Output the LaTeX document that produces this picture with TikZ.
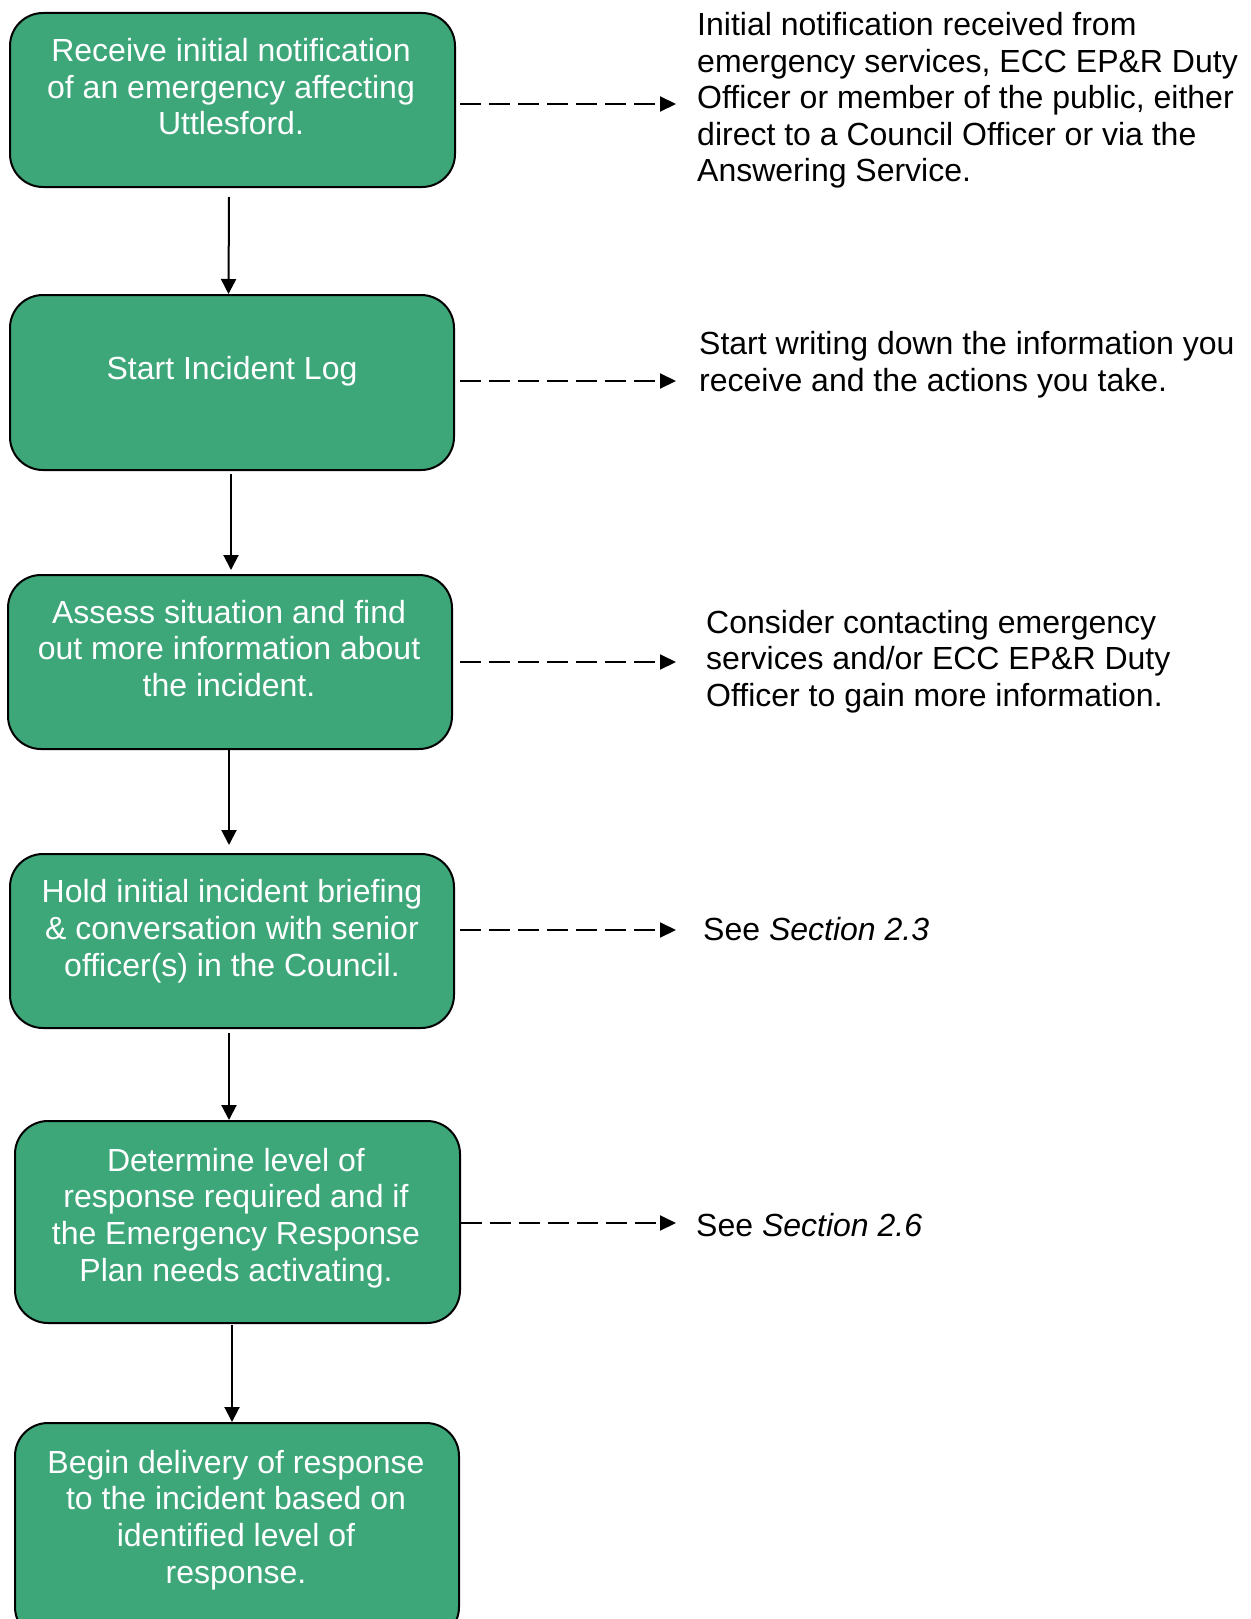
\documentclass[tikz,border=0pt]{standalone}
\usepackage{fontspec}
\setmainfont{Liberation Sans}
\usetikzlibrary{arrows.meta}
\definecolor{boxgreen}{HTML}{3DA77A}
\begin{document}
\begin{tikzpicture}[x=1pt,y=-1pt,
  box/.style={draw=black, line width=2pt, fill=boxgreen, rounded corners=33pt, rectangle, inner sep=0pt},
  boxtext/.style={text=white, align=center, font=\fontsize{32}{36.8}\selectfont, inner sep=0pt},
  note/.style={text=black, align=left, font=\fontsize{32}{36.4}\selectfont, inner sep=0pt, anchor=west},
  flow/.style={line width=2pt, -{Triangle[length=15pt,width=15pt]}},
  dasharrow/.style={line width=2pt, dash pattern=on 21pt off 8pt, -{Triangle[length=16pt,width=15pt]}}
]
\clip (0,0) rectangle (1250,1619);
% boxes
\node[box, minimum width=445pt, minimum height=174pt] (b1) at (232.5,100) {};
\node[box, minimum width=444pt, minimum height=175pt] (b2) at (232,382.5) {};
\node[box, minimum width=444pt, minimum height=174pt] (b3) at (230,662) {};
\node[box, minimum width=444pt, minimum height=174pt] (b4) at (232,941) {};
\node[box, minimum width=445pt, minimum height=202pt] (b5) at (237.5,1222) {};
\node[box, minimum width=444pt, minimum height=217pt] (b6) at (237,1531.5) {};
% box texts
\node[boxtext] (t1) at (231,86.7) {Receive initial notification\\of an emergency affecting\\Uttlesford.};
\node[boxtext] (t2) at (232,371.5) {Start Incident Log};
\node[boxtext] (t3) at (229,648.5) {Assess situation and find\\out more information about\\the incident.};
\node[boxtext] (t4) at (232,931) {Hold initial incident briefing\\\& conversation with senior\\officer(s) in the Council.};
\node[boxtext] (t5) at (236,1218) {Determine level of\\response required and if\\the Emergency Response\\Plan needs activating.};
\node[boxtext] (t6) at (236,1520) {Begin delivery of response\\to the incident based on\\identified level of\\response.};
% notes
\node[note] (n1) at (697,100.5) {Initial notification received from\\emergency services, ECC EP\&R Duty\\Officer or member of the public, either\\direct to a Council Officer or via the\\Answering Service.};
\node[note] (n2) at (699,364.8) {Start writing down the information you\\receive and the actions you take.};
\node[note] (n3) at (706,661.5) {Consider contacting emergency\\services and/or ECC EP\&R Duty\\Officer to gain more information.};
\node[note] (n4) at (703,929) {See \textit{Section 2.3}};
\node[note] (n5) at (696,1225.5) {See \textit{Section 2.6}};
% dashed arrow ends
\coordinate (e1) at (676,104);
\coordinate (e2) at (676,381);
\coordinate (e3) at (676,662);
\coordinate (e4) at (676,930);
\coordinate (e5) at (676,1223);
\draw[dasharrow, shorten <=4pt] (b1.east |- e1) -- (e1);
\draw[dasharrow, shorten <=5pt] (b2.east |- e2) -- (e2);
\draw[dasharrow, shorten <=7pt] (b3.east |- e3) -- (e3);
\draw[dasharrow, shorten <=5pt] (b4.east |- e4) -- (e4);
\draw[dasharrow] (b5.east |- e5) -- (e5);
% flow arrows
\draw[flow] ([xshift=-3.5pt,yshift=-9pt]b1.south) -- ([xshift=-3.5pt]b2.north);
\draw[flow] ([xshift=-1pt,yshift=-3pt]b2.south) -- ([xshift=1pt,yshift=4pt]b3.north);
\draw[flow] ([xshift=-1pt]b3.south) -- ([xshift=-3pt,yshift=8pt]b4.north);
\draw[flow] ([xshift=-3pt,yshift=-4pt]b4.south) -- ([xshift=-8.5pt]b5.north);
\draw[flow] ([xshift=-5.5pt,yshift=-1pt]b5.south) -- ([xshift=-5pt]b6.north);
\end{tikzpicture}
\end{document}
